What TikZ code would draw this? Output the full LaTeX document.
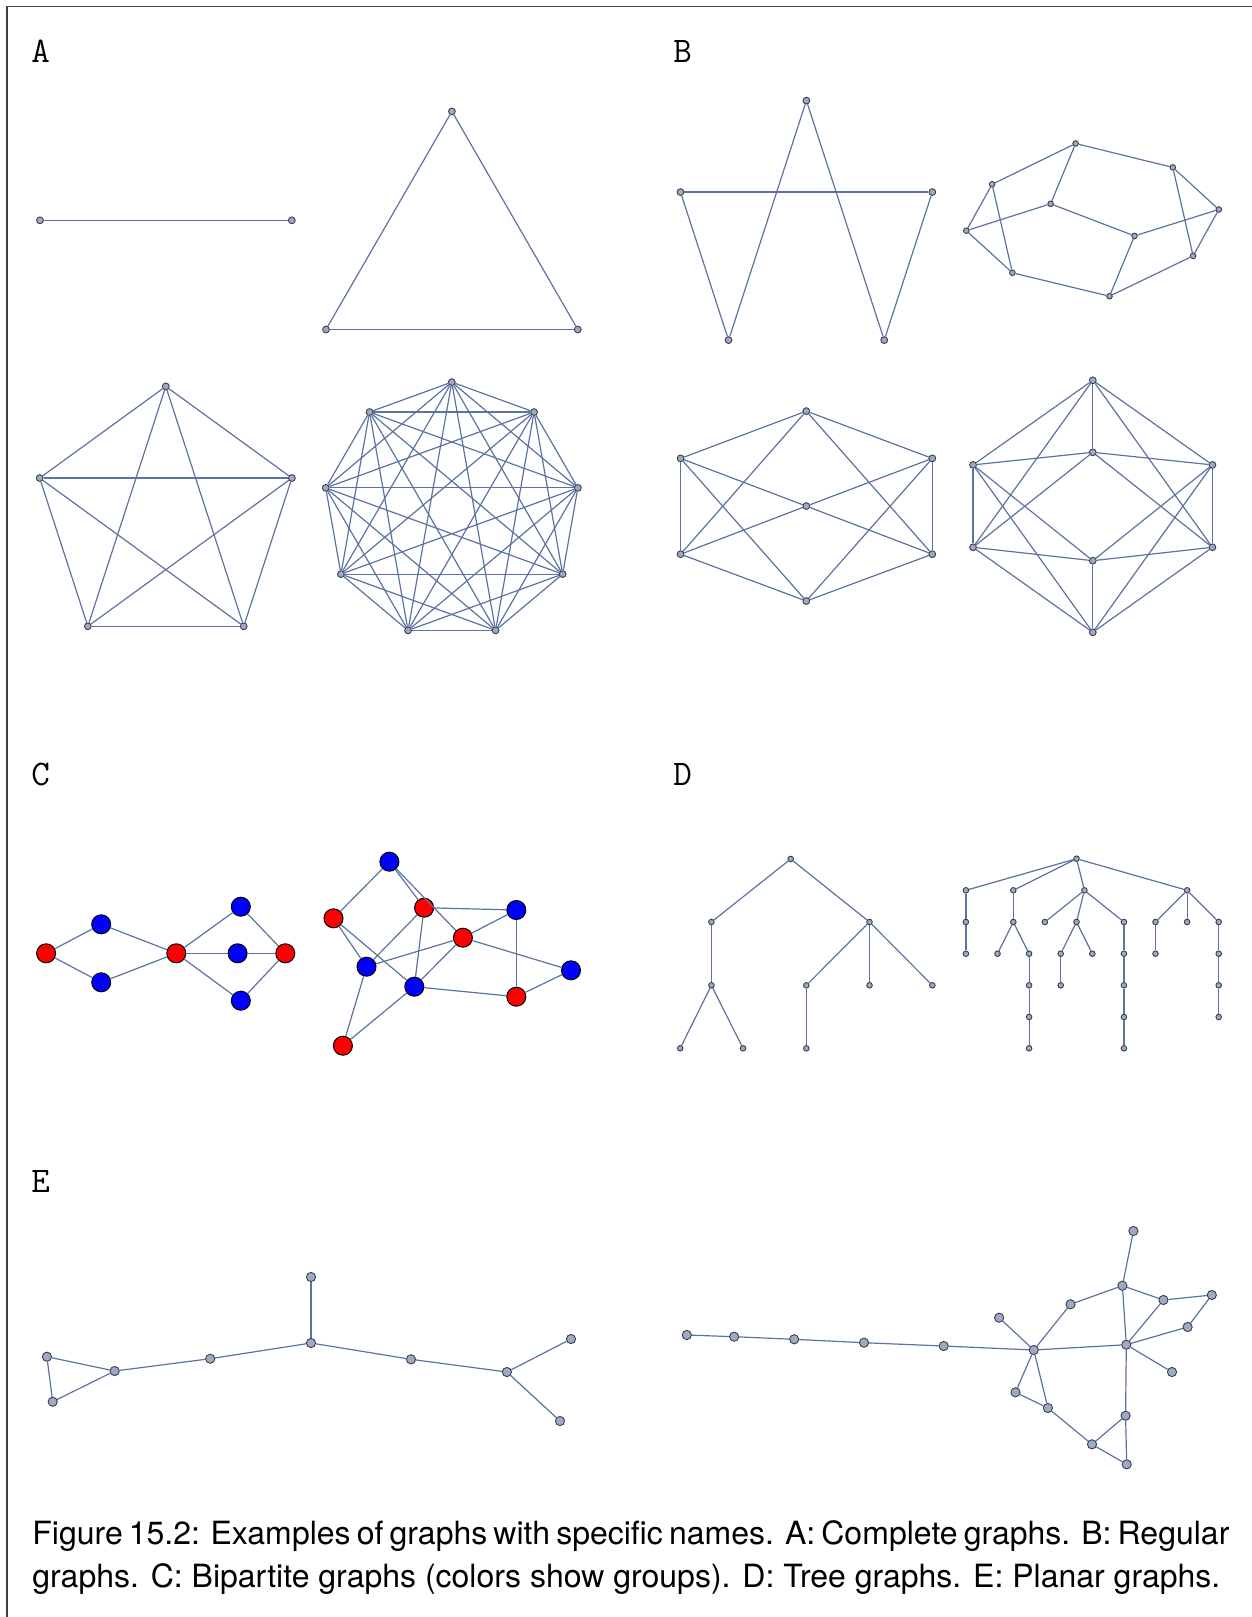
\documentclass[tikz,border=0pt]{standalone}
\usepackage{fontspec}
\newfontfamily\capfont{TeX Gyre Heros}
\definecolor{edgeblue}{RGB}{90,115,162}
\definecolor{vtxfill}{RGB}{158,170,196}
\definecolor{vtxline}{RGB}{60,62,70}
\definecolor{bipred}{RGB}{255,0,0}
\definecolor{bipblue}{RGB}{0,0,255}
\tikzset{
  vtx/.style={circle,draw=vtxline,fill=vtxfill,line width=0.45pt,inner sep=0pt,minimum size=3.4pt},
  smallvtx/.style={vtx,minimum size=2.8pt},
  bigvtx/.style={vtx,minimum size=4.6pt},
  redvtx/.style={circle,draw=black,fill=bipred,line width=0.5pt,inner sep=0pt,minimum size=9.5pt},
  bluevtx/.style={redvtx,fill=bipblue},
  link/.style={draw=edgeblue,line width=0.6pt},
  panel/.style={font=\ttfamily\fontsize{18}{20}\selectfont,anchor=base west,inner sep=0pt},
  caption/.style={font=\capfont\fontsize{16}{20}\selectfont,anchor=base west,inner sep=0pt}
}

\begin{document}
\begin{tikzpicture}[x=0.5pt,y=-0.5pt]
    \useasboundingbox (0,0) rectangle (1252,1617);
    % frame
    \draw[line width=0.75pt,black!75] (7,1617) -- (7,6.5) -- (1252,6.5);

    % panel letters
    \node[panel] (labA) at (31,62) {A};
    \node[panel] (labB) at (673,62) {B};
    \node[panel] (labC) at (31,785) {C};
    \node[panel] (labD) at (673,785) {D};
    \node[panel] (labE) at (31,1192) {E};

    % A: complete graphs
    \node[vtx] (ka1) at (40,220.3) {};
    \node[vtx] (ka2) at (291.8,220.3) {};
    \draw[link] (ka1) -- (ka2);
    \foreach \i in {0,1,2}
        \node[vtx] (kb\i) at ({451.9+145.4*cos(-90+120*\i)},{256.8+145.4*sin(-90+120*\i)}) {};
    \foreach \a/\b in {0/1,1/2,2/0}
        \draw[link] (kb\a) -- (kb\b);
    \foreach \i in {0,...,4}
        \node[vtx] (kc\i) at ({165.8+132.6*cos(-90+72*\i)},{519+132.6*sin(-90+72*\i)}) {};
    \foreach \i in {0,...,3} {
        \pgfmathtruncatemacro\nxt{\i+1}
        \foreach \j in {\nxt,...,4}
            \draw[link] (kc\i) -- (kc\j);
    }
    \foreach \i in {0,...,8}
        \node[vtx] (kd\i) at ({451.8+128*cos(-90+40*\i)},{510.1+128*sin(-90+40*\i)}) {};
    \foreach \i in {0,...,7} {
        \pgfmathtruncatemacro\nxt{\i+1}
        \foreach \j in {\nxt,...,8}
            \draw[link] (kd\i) -- (kd\j);
    }

    % B: regular graphs
    \foreach \i in {0,...,4}
        \node[vtx] (ra\i) at ({806.4+132.4*cos(-90+72*\i)},{233+132.4*sin(-90+72*\i)}) {};
    \foreach \a/\b in {4/1,1/2,2/0,0/3,3/4}
        \draw[link] (ra\a) -- (ra\b);

    \node[smallvtx] (pa) at (1075.6,143.5) {};
    \node[smallvtx] (pb) at (1172.8,167.4) {};
    \node[smallvtx] (pc) at (992.1,184.3) {};
    \node[smallvtx] (pd) at (1050.6,203.8) {};
    \node[smallvtx] (pe) at (1218.8,209.5) {};
    \node[smallvtx] (pf) at (966.3,230.7) {};
    \node[smallvtx] (pg) at (1134.5,235.9) {};
    \node[smallvtx] (ph) at (1193.1,255.9) {};
    \node[smallvtx] (pi) at (1012.4,272.8) {};
    \node[smallvtx] (pj) at (1109.5,296.2) {};
    \foreach \a/\b in {pa/pb,pa/pc,pa/pd,pb/pe,pb/ph,pc/pf,pc/pi,pf/pd,pf/pi,
                       pd/pg,pg/pe,pg/pj,pi/pj,pj/ph,ph/pe}
        \draw[link] (\a) -- (\b);

    \node[vtx] (qt) at (806.3,411.1) {};
    \node[vtx] (qlu) at (680.6,458.4) {};
    \node[vtx] (qru) at (932.3,458.4) {};
    \node[vtx] (qc) at (806.3,506.1) {};
    \node[vtx] (qld) at (680.6,554.2) {};
    \node[vtx] (qrd) at (932.3,554.2) {};
    \node[vtx] (qb) at (806.3,601) {};
    \foreach \a in {qt,qb,qc}
        \foreach \b in {qlu,qru,qld,qrd}
            \draw[link] (\a) -- (\b);
    \draw[link] (qlu) -- (qld);
    \draw[link] (qru) -- (qrd);

    \node[vtx] (st) at (1092.8,380.3) {};
    \node[vtx] (smt) at (1092.8,452.3) {};
    \node[vtx] (sl1) at (973,464.9) {};
    \node[vtx] (sr1) at (1212.4,464.9) {};
    \node[vtx] (sl2) at (973,547.3) {};
    \node[vtx] (sr2) at (1212.4,547.3) {};
    \node[vtx] (smb) at (1092.8,560.7) {};
    \node[vtx] (sb) at (1092.8,632.3) {};
    \foreach \a in {st,smt,smb,sb}
        \foreach \b in {sl1,sr1,sl2,sr2}
            \draw[link] (\a) -- (\b);
    \foreach \a/\b in {st/smt,smb/sb,sl1/sl2,sr1/sr2}
        \draw[link] (\a) -- (\b);

    % C: bipartite graphs
    \node[redvtx] (ca1) at (46.1,953.3) {};
    \node[bluevtx] (cb1) at (101.2,924.3) {};
    \node[bluevtx] (cb2) at (101.2,982.3) {};
    \node[redvtx] (ca2) at (176.3,953.3) {};
    \node[bluevtx] (cb3) at (240.8,906.7) {};
    \node[bluevtx] (cb4) at (237.6,953.3) {};
    \node[bluevtx] (cb5) at (240.8,1000.7) {};
    \node[redvtx] (ca3) at (285.3,953.3) {};
    \foreach \a/\b in {ca1/cb1,ca1/cb2,cb1/ca2,cb2/ca2,ca2/cb3,ca2/cb4,ca2/cb5,
                       cb3/ca3,cb4/ca3,cb5/ca3}
        \draw[link] (\a) -- (\b);

    \node[bluevtx] (db1) at (389.4,861.7) {};
    \node[redvtx] (da1) at (333.5,918.3) {};
    \node[redvtx] (da2) at (424.1,907.7) {};
    \node[bluevtx] (db2) at (516.3,910) {};
    \node[redvtx] (da3) at (462.9,937.7) {};
    \node[bluevtx] (db3) at (366.5,966.7) {};
    \node[bluevtx] (db4) at (414.3,986.7) {};
    \node[bluevtx] (db5) at (571,970.3) {};
    \node[redvtx] (da4) at (516.3,996.7) {};
    \node[redvtx] (da5) at (342.9,1045.7) {};
    \foreach \a/\b in {da1/db1,da1/db3,da1/db4,da2/db1,da2/db2,da2/db3,da2/db4,
                       da3/db1,da3/db2,da3/db3,da3/db4,da3/db5,da4/db2,da4/db4,
                       da4/db5,da5/db3,da5/db4}
        \draw[link] (\a) -- (\b);

    % D: tree graphs
    \node[smallvtx] (tr) at (790.7,859) {};
    \node[smallvtx] (tn1) at (711.4,922) {};
    \node[smallvtx] (tn2) at (869.5,922) {};
    \node[smallvtx] (tn3) at (711.4,985.3) {};
    \node[smallvtx] (tn4) at (806.3,985.3) {};
    \node[smallvtx] (tn5) at (869.5,985.3) {};
    \node[smallvtx] (tn6) at (932.3,985.3) {};
    \node[smallvtx] (tn7) at (680.2,1048.3) {};
    \node[smallvtx] (tn8) at (743,1048.3) {};
    \node[smallvtx] (tn9) at (806.3,1048.3) {};
    \foreach \a/\b in {tr/tn1,tr/tn2,tn1/tn3,tn3/tn7,tn3/tn8,tn2/tn4,tn2/tn5,tn2/tn6,tn4/tn9}
        \draw[link] (\a) -- (\b);

    % second tree: column k at x = 965.9+31.6k
    \foreach \nm/\k/\y in {u0/3.5/858.7,
        ua/0/890.3,ub/1.5/890.3,uc/3.75/890.3,ud/7/890.3,
        va/0/922,vb/1.5/922,vc/2.5/922,vd/3.5/922,ve/5/922,vf/6/922,vg/7/922,vh/8/922,
        wa/0/953.7,wb/1/953.7,wc/2/953.7,wd/3/953.7,we/4/953.7,wf/5/953.7,wg/6/953.7,wh/8/953.7,
        xa/2/985.3,xb/3/985.3,xc/5/985.3,xd/8/985.3,
        ya/2/1017,yb/5/1017,yc/8/1017,
        za/2/1048.3,zb/5/1048.3}
        \node[smallvtx] (\nm) at ({965.9+31.6*\k},\y) {};
    \foreach \a/\b in {u0/ua,u0/ub,u0/uc,u0/ud,ua/va,va/wa,ub/vb,vb/wb,vb/wc,wc/xa,xa/ya,ya/za,
                       uc/vc,uc/vd,uc/ve,vd/wd,vd/we,wd/xb,ve/wf,wf/xc,xc/yb,yb/zb,
                       ud/vf,ud/vg,ud/vh,vf/wg,vh/wh,wh/xd,xd/yc}
        \draw[link] (\a) -- (\b);

    % E: planar graphs
    \node[bigvtx] (e1) at (46.9,1356.7) {};
    \node[bigvtx] (e2) at (52.7,1401.7) {};
    \node[bigvtx] (e3) at (114.7,1371) {};
    \node[bigvtx] (e4) at (210.2,1358.7) {};
    \node[bigvtx] (e5) at (311,1343) {};
    \node[bigvtx] (e6) at (311,1277) {};
    \node[bigvtx] (e7) at (411,1359.3) {};
    \node[bigvtx] (e8) at (506.9,1372) {};
    \node[bigvtx] (e9) at (571,1339) {};
    \node[bigvtx] (e10) at (560,1421) {};
    \foreach \a/\b in {e1/e2,e1/e3,e2/e3,e3/e4,e4/e5,e5/e6,e5/e7,e7/e8,e8/e9,e8/e10}
        \draw[link] (\a) -- (\b);

    \node[bigvtx] (p1) at (686.8,1335) {};
    \node[bigvtx] (p2) at (734.1,1336.7) {};
    \node[bigvtx] (p3) at (794.2,1339.3) {};
    \node[bigvtx] (p4) at (864,1342.7) {};
    \node[bigvtx] (p5) at (943.7,1346) {};
    \node[bigvtx] (h1) at (1033.8,1350) {};
    \node[bigvtx] (h2) at (1122.4,1285.7) {};
    \node[bigvtx] (h3) at (1126.3,1344.7) {};
    \node[bigvtx] (g1) at (999.1,1317.7) {};
    \node[bigvtx] (g2) at (1070.5,1304.3) {};
    \node[bigvtx] (g3) at (1133.4,1231) {};
    \node[bigvtx] (g4) at (1163.4,1300) {};
    \node[bigvtx] (g5) at (1211.8,1295) {};
    \node[bigvtx] (g6) at (1187.6,1327) {};
    \node[bigvtx] (g7) at (1172,1372) {};
    \node[bigvtx] (g8) at (1015.5,1392.3) {};
    \node[bigvtx] (g9) at (1047.9,1408) {};
    \node[bigvtx] (g10) at (1125.6,1415.7) {};
    \node[bigvtx] (g11) at (1092,1444.3) {};
    \node[bigvtx] (g12) at (1126.7,1464.3) {};
    \foreach \a/\b in {p1/p2,p2/p3,p3/p4,p4/p5,p5/h1,h1/g1,h1/g2,g2/h2,h2/g3,h2/g4,h2/h3,
                       g4/g5,g5/g6,g6/h3,g4/h3,h1/h3,h3/g7,h3/g10,h1/g8,h1/g9,g8/g9,
                       g9/g11,g11/g10,g11/g12,g10/g12}
        \draw[link] (\a) -- (\b);

    % caption
    \node[caption] (cap1) at (32,1544)
        {\hbox to 598.5pt{Figure 15.2: Examples of graphs with specific names. A: Complete graphs. B: Regular}};
    \node[caption] (cap2) at (32,1587)
        {graphs. C: Bipartite graphs (colors show groups). D: Tree graphs. E: Planar graphs.};
\end{tikzpicture}
\end{document}
